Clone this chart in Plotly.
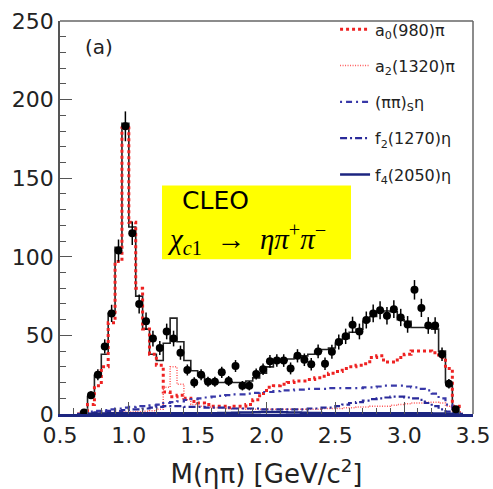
import plotly.graph_objects as go

# bin centres (GeV/c^2), 0.05 GeV bins
bins = [0.625, 0.675, 0.725, 0.775, 0.825, 0.875, 0.925, 0.975, 1.025, 1.075,
        1.125, 1.175, 1.225, 1.275, 1.325, 1.375, 1.425, 1.475, 1.525, 1.575,
        1.625, 1.675, 1.725, 1.775, 1.825, 1.875, 1.925, 1.975, 2.025, 2.075,
        2.125, 2.175, 2.225, 2.275, 2.325, 2.375, 2.425, 2.475, 2.525, 2.575,
        2.625, 2.675, 2.725, 2.775, 2.825, 2.875, 2.925, 2.975, 3.025, 3.075,
        3.125, 3.175, 3.225, 3.275, 3.325, 3.375, 3.425]

data = [None, 1, 12, 25, 43, 64, 104, 183, 115, 70,
        59, 48, 42, 52.5, 48, 39, 28, 20, 25, 20.5,
        20.5, 26.5, 21, 30.5, 18, 18, 25.5, 28.5, 33.5, 34,
        34, 29, 37, 34.5, 31.7, 39.8, 32, 39.6, 45.8, 49.4,
        56.7, 52.5, 59.8, 64, 66, 62.5, 66.7, 61.4, 57, 79,
        67.5, 56.3, 56.3, 38, 19.2, 3, None]

data_err = [None, 1, 2.5, 3.5, 4.5, 5.5, 7, 9.5, 7.5, 6,
            5.5, 5, 4.5, 5, 5, 4.5, 3.5, 3.3, 3.5, 3.2,
            3.2, 3.6, 3.2, 3.8, 3, 3, 3.5, 3.7, 4, 4,
            4, 3.8, 4.2, 4, 4, 4.4, 4, 4.4, 4.7, 4.9,
            5.2, 5, 5.4, 5.6, 5.7, 5.5, 5.7, 5.5, 5.3, 6.2,
            5.8, 5.3, 5.3, 4.3, 3, 1.5, None]

fit = [0, 1.5, 11, 24.5, 38, 64, 106, 185, 119, 75,
       54, 38, 34, 45, 61, 46, 34, 27.5, 24.4, 21,
       20, 20, 20.5, 20, 20, 21, 23, 26, 30, 33,
       34, 35, 36, 37, 38, 40, 41, 42, 45, 48,
       52, 54, 59, 62, 65, 65.5, 65, 60, 59, 55,
       55, 55, 54, 40, 20, 4.5, 0]

a0_980 = [0, 1, 6, 18, 30, 58, 97, 182, 122, 80,
          54, 38, 31, 14, 11, 12, 10, 8, 7, 6,
          5, 5, 4, 5, 5, 6, 9, 13, 17, 18,
          19, 20, 21, 21, 22, 23, 24, 26, 27, 29,
          30, 31, 32, 36, 37, 33, 33, 36, 38, 40,
          40, 40, 39, 36, 29, 5, 0]

a2_1320 = [0, 0, 0.3, 0.5, 0.7, 1, 1, 1.2, 1.3, 1.5,
           1.7, 2, 3, 17, 30, 19, 9, 6, 5, 4.5,
           4, 4, 3.5, 3.5, 3.5, 3, 3, 3, 3, 3,
           3, 3, 3, 3, 3, 3, 3.5, 3.5, 3.5, 4,
           4, 4.5, 4.5, 5, 5, 5, 5.5, 6, 6.5, 7,
           7, 7.5, 7.5, 7, 5, 1.5, 0]

pipi_s = [0, 0.5, 1.5, 2, 2.5, 3, 3.5, 4, 4.5, 5,
          5, 5.5, 6, 7, 7.5, 8, 9, 9.5, 10, 10.5,
          11, 11.5, 12, 12.5, 12.5, 13, 13.5, 14, 14, 14.5,
          15, 15, 15.5, 15.5, 16, 16, 16, 16.5, 16.5, 16.5,
          16.5, 16.5, 17, 17, 17.5, 18, 18, 18, 17.5, 17,
          16, 15, 13, 10, 6, 2, 0]

f2_1270 = [0, 0, 0.5, 1, 1.5, 2, 2, 2.5, 3, 3,
           3.5, 4, 4.5, 5, 5, 5, 4.5, 4.5, 4.5, 4,
           4, 4, 4, 3.5, 3.5, 3.5, 3.5, 3, 3, 3,
           3, 3, 3, 3, 3.5, 3.5, 4, 4, 5, 6,
           7, 7.5, 8.5, 9.5, 10, 10.5, 11, 11, 10.5, 10,
           9, 7, 5, 3, 1.5, 0.5, 0]

f4_2050 = [0, 0, 0.2, 0.3, 0.3, 0.4, 0.4, 0.5, 0.5, 0.5,
           0.5, 0.5, 0.5, 0.5, 0.5, 0.5, 0.5, 0.5, 0.5, 0.5,
           0.5, 0.6, 0.7, 0.8, 0.9, 1, 1.1, 1.2, 1.2, 1.2,
           1.1, 1, 0.9, 0.8, 0.7, 0.6, 0.5, 0.5, 0.5, 0.5,
           0.5, 0.5, 0.5, 0.5, 0.5, 0.5, 0.5, 0.5, 0.5, 0.5,
           0.5, 0.4, 0.3, 0.3, 0.2, 0.1, 0]

legend_names = ["a<sub>0</sub>(980)π", "a<sub>2</sub>(1320)π", "(ππ)<sub>S</sub>η",
                "f<sub>2</sub>(1270)η", "f<sub>4</sub>(2050)η"]

FONT = "DejaVu Sans"
NB = "\u00a0"
fig = go.Figure()

# total fit histogram
fig.add_trace(go.Scatter(x=bins, y=fit, mode="lines", line_shape="hvh",
                         line=dict(color="#222222", width=1.6), showlegend=False))

comps = [
    (a0_980, dict(color="#ee2222", width=3, dash="dot")),
    (a2_1320, dict(color="#ff5a5a", width=1.5, dash="1px,1.5px")),
    (pipi_s, dict(color="#3838a8", width=2.2, dash="2px,4px,6px,4px")),
    (f2_1270, dict(color="#2a2a9a", width=2.2, dash="7px,3px,2px,3px")),
    (f4_2050, dict(color="#1c2580", width=2.5)),
]
for i, ((vals, ln), nm) in enumerate(zip(comps, legend_names)):
    fig.add_trace(go.Scatter(x=bins, y=vals, mode="lines", line_shape="hvh",
                             line=ln, name=nm, legendgroup=f"g{i}"))

# data points
fig.add_trace(go.Scatter(x=bins, y=data, mode="markers",
                         marker=dict(color="black", size=8),
                         error_y=dict(type="data", array=data_err, visible=True,
                                      color="black", thickness=1.5, width=0),
                         showlegend=False))

fig.add_shape(type="rect", xref="paper", yref="paper", x0=0.247, x1=0.7046,
              y0=0.3935, y1=0.5815, fillcolor="#ffff00", line=dict(width=0), layer="below")
# frame top/right
fig.add_shape(type="line", xref="paper", yref="paper", x0=0, x1=1, y0=1, y1=1,
              line=dict(color="#666666", width=1.5))
fig.add_shape(type="line", xref="paper", yref="paper", x0=1, x1=1, y0=0, y1=1,
              line=dict(color="#666666", width=1.5))

# CLEO label sits just above the split line, the decay just below it
split_y = 0.502
fig.add_annotation(xref="paper", yref="paper", x=0.2915, y=split_y, xanchor="left", yanchor="bottom",
                   text="CLEO", showarrow=False,
                   font=dict(family=FONT, size=25, color="black"))
fig.add_annotation(xref="paper", yref="paper", x=0.254, y=split_y, xanchor="left", yanchor="top",
                   text=(f"<i>χ</i><sub><i>c</i>1</sub>{NB}{NB}→{NB}{NB}"
                         f"<i>ηπ</i><sup>+</sup><i>π</i><sup>−</sup>"),
                   showarrow=False, font=dict(family="Liberation Serif", size=29, color="black"))
fig.add_annotation(xref="paper", yref="paper", x=0.0557, y=0.935, xanchor="left", yanchor="middle",
                   text="(a)", showarrow=False, font=dict(family=FONT, size=20, color="#222"))

fig.update_layout(
    width=493, height=489,
    margin=dict(l=60, r=20, t=15, b=75),
    paper_bgcolor="white", plot_bgcolor="white",
    font=dict(family=FONT, color="#222222"),
    legend=dict(x=0.666, y=1.022, xanchor="left", yanchor="top",
                font=dict(family=FONT, size=16, color="#222"),
                bgcolor="rgba(0,0,0,0)", tracegroupgap=12.5, traceorder="grouped"),
    xaxis=dict(range=[0.5, 3.5], dtick=0.5, tick0=0.5, tickformat=".1f", automargin=False,
               ticks="inside", ticklen=12, tickcolor="#555", showgrid=False, zeroline=False,
               showline=True, linecolor="#1c2580", linewidth=2.5,
               minor=dict(ticks="inside", ticklen=6, dtick=0.1, tickcolor="#555", showgrid=False),
               tickfont=dict(size=22, family=FONT),
               title=dict(text="M(ηπ) [GeV/c<sup>2</sup>]", font=dict(size=26, family=FONT), standoff=19)),
    yaxis=dict(range=[0, 250], dtick=50, ticks="inside", ticklen=12, tickcolor="#555",
               automargin=False,
               showgrid=False, zeroline=False, showline=True, linecolor="#555", linewidth=1.5,
               minor=dict(ticks="inside", ticklen=6, dtick=10, tickcolor="#555", showgrid=False),
               tickfont=dict(size=22, family=FONT)),
)

fig.write_html("out.html")
